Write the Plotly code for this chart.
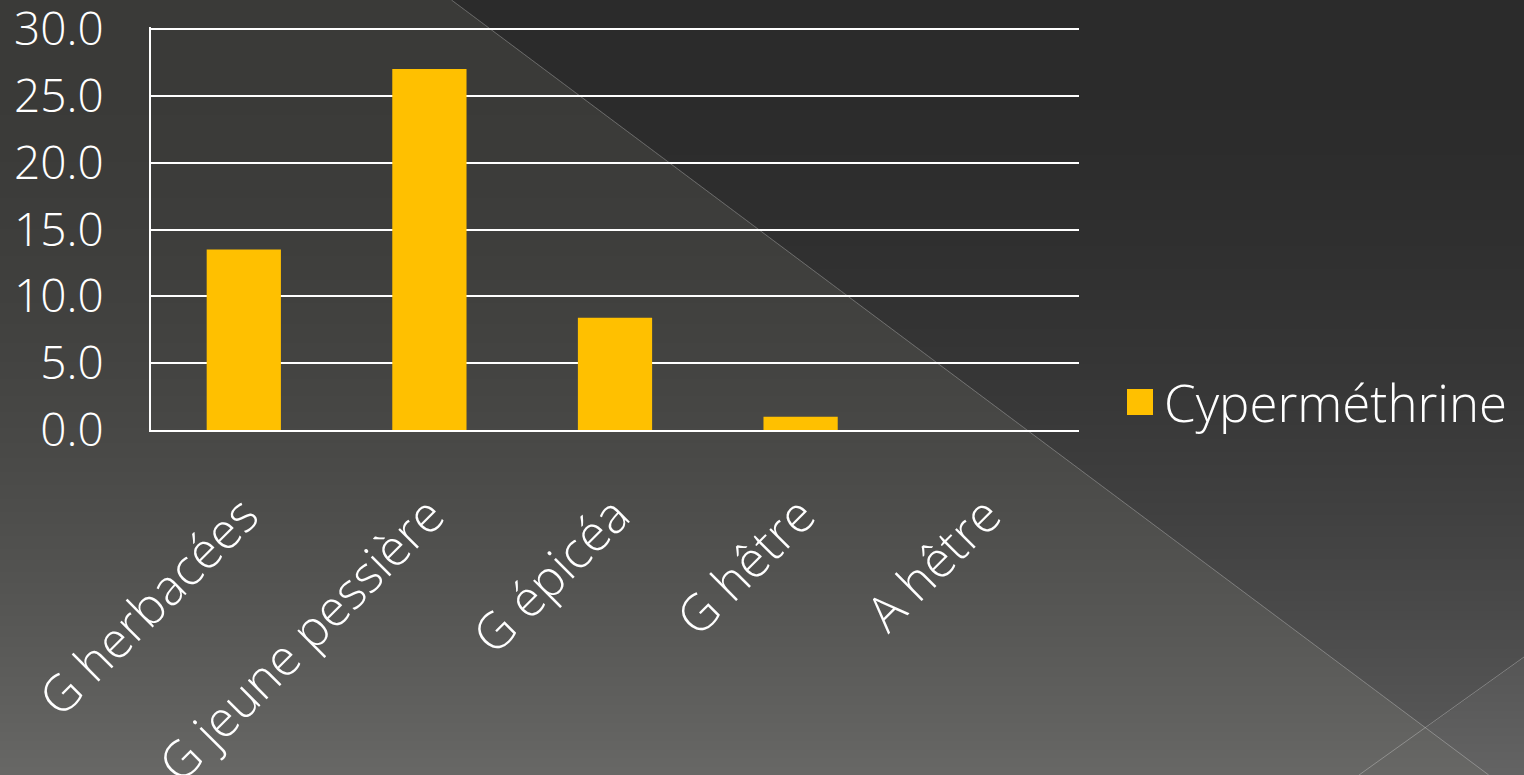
import base64
import struct
import zlib

import numpy as np
import plotly.graph_objects as go

# ---- data -------------------------------------------------------------
categories = ["G herbacées", "G jeune pessière", "G épicéa", "G hêtre", "A hêtre"]
cypermethrine = [13.5, 27.0, 8.4, 1.0, 0.0]
series_name = "Cyperméthrine"
y_ticks = [0, 5, 10, 15, 20, 25, 30]
y_range = [0, 30.15]

# ---- page geometry ----------------------------------------------------
W, H = 1524, 775
L, R, T, B = 151, 445, 27, 345
PW, PH = W - L - R, H - T - B

BAR_COLOR = "#FFC000"
FONT = "'Open Sans', Lato, sans-serif"


def px_to_paper(x, y):
    """Convert page pixel coordinates to plot 'paper' coordinates."""
    return (x - L) / PW, 1 - (y - T) / PH


def png_data_uri(rgb):
    h, w, _ = rgb.shape
    raw = b"".join(b"\x00" + rgb[i].tobytes() for i in range(h))

    def chunk(tag, data):
        c = struct.pack(">I", len(data)) + tag + data
        return c + struct.pack(">I", zlib.crc32(tag + data) & 0xFFFFFFFF)

    png = b"\x89PNG\r\n\x1a\n"
    png += chunk(b"IHDR", struct.pack(">IIBBBBB", w, h, 8, 2, 0, 0, 0))
    png += chunk(b"IDAT", zlib.compress(raw, 9))
    png += chunk(b"IEND", b"")
    return "data:image/png;base64," + base64.b64encode(png).decode()


# ---- slide-style background: dark vertical gradient with a lighter wedge
yy, xx = np.mgrid[0:H, 0:W].astype(float)
t = (yy / H) ** 2
dark = 43 + 50 * t
light = 58 + 46 * t

# diagonal edge through (580, 96) and (1027, 430)
slope = (430 - 96) / (1027 - 580)
edge_x = 580 + (yy - 96) / slope
in_light = xx < edge_x
# second short edge at the bottom right
edge2_y = 728 - 0.717 * (xx - 1425)
in_corner = (yy > edge2_y) & ~in_light

val = np.where(in_light, light, dark) + np.where(in_corner, 7, 0)
rgb = np.stack([val, val, val - np.where(in_light, 2, 0)], axis=-1)
rgb = np.clip(rgb, 0, 255).astype(np.uint8)
bg_uri = png_data_uri(rgb)

x0p, y0p = px_to_paper(0, 0)

fig = go.Figure()
fig.add_trace(
    go.Bar(
        x=categories,
        y=cypermethrine,
        name=series_name,
        marker=dict(color=BAR_COLOR, line=dict(width=0)),
        showlegend=False,
    )
)

# decorative diagonal strokes
def seg(p, q):
    a = px_to_paper(*p)
    b = px_to_paper(*q)
    return dict(
        type="line", xref="paper", yref="paper",
        x0=a[0], y0=a[1], x1=b[0], y1=b[1],
        line=dict(color="rgba(255,255,255,0.28)", width=1),
        layer="below",
    )

top_x = 580 - 96 / slope
bot_x = 580 + (H - 96) / slope
shapes = [
    seg((top_x, 0), (bot_x, H)),
    seg((1359, H), (1524, 657)),
]

# legend swatch + label
sx0, sy0 = px_to_paper(1127, 389)
sx1, sy1 = px_to_paper(1153, 415)
shapes.append(
    dict(type="rect", xref="paper", yref="paper",
         x0=sx0, y0=sy1, x1=sx1, y1=sy0,
         fillcolor=BAR_COLOR, line=dict(width=0))
)
lx, ly = px_to_paper(1162, 402)

fig.update_layout(
    template="none",
    width=W,
    height=H,
    margin=dict(l=L, r=R, t=T, b=B, pad=0, autoexpand=False),
    paper_bgcolor="rgba(0,0,0,0)",
    plot_bgcolor="rgba(0,0,0,0)",
    bargap=0.6,
    showlegend=False,
    font=dict(family=FONT, color="#ffffff", weight=300),
    images=[
        dict(
            source=bg_uri, xref="paper", yref="paper",
            x=x0p, y=y0p, sizex=W / PW, sizey=H / PH,
            xanchor="left", yanchor="top", sizing="stretch",
            layer="below",
        )
    ],
    shapes=shapes,
    annotations=[
        dict(
            text=series_name, xref="paper", yref="paper",
            x=lx, y=ly, xanchor="left", yanchor="middle",
            showarrow=False,
            font=dict(family=FONT, size=51, color="#ffffff", weight=300),
        )
    ],
    xaxis=dict(
        automargin=False,
        tickangle=-45,
        tickfont=dict(family=FONT, size=50, color="#ffffff", weight=300),
        showgrid=False,
        showline=True,
        linecolor="#ffffff",
        linewidth=2,
        ticks="",
        ticklabelstandoff=34,
        fixedrange=True,
    ),
    yaxis=dict(
        automargin=False,
        range=y_range,
        tickvals=y_ticks,
        tickformat=".1f",
        tickfont=dict(family=FONT, size=46, color="#ffffff", weight=300),
        ticklabeloverflow="allow",
        showgrid=True,
        gridcolor="#ffffff",
        gridwidth=2,
        showline=True,
        linecolor="#ffffff",
        linewidth=2,
        zeroline=False,
        ticks="",
        ticklabelstandoff=36,
        fixedrange=True,
    ),
)

fig.write_html("out.html", config=dict(displayModeBar=False))
